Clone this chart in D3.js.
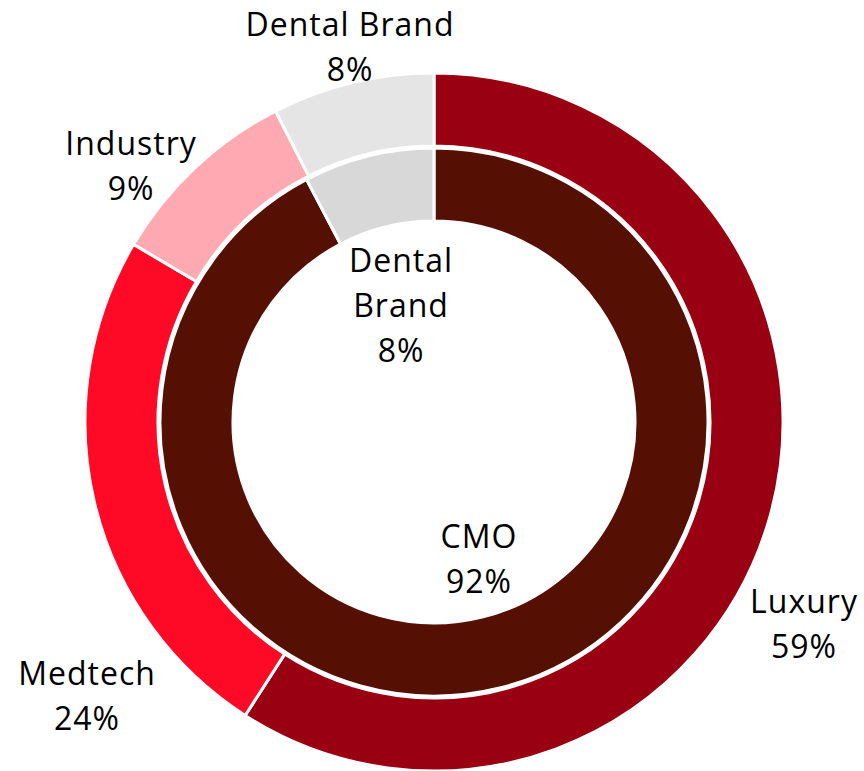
<!DOCTYPE html>
<html><head><meta charset="utf-8">
<script src="https://cdn.jsdelivr.net/npm/d3@7"></script>
<style>html,body{margin:0;padding:0;background:#fff;}svg{display:block;}</style>
</head><body>
<svg id="chart" width="864" height="771"></svg>
<script>
// Outer ring
const outerCategories = ["Luxury", "Medtech", "Industry", "Dental Brand"];
const outerValues = [59.1, 24.4, 9.0, 7.5];
const outerLabels = ["59%", "24%", "9%", "8%"];
const outerColors = ["#990011", "#FF0A26", "#FFAAB2", "#E5E5E5"];
// Inner ring
const innerCategories = ["CMO", "Dental Brand"];
const innerValues = [92.3, 7.7];
const innerLabels = ["92%", "8%"];
const innerColors = ["#560F03", "#D8D8D8"];

// label placement: offset of first baseline from centre
const outerLabelPos = [[370, 191], [-347, 263], [-303, -267], [-84, -386]];
const innerLabelPos = [[45, 126], [-33, -150]];
const outerLabelLines = [["Luxury"], ["Medtech"], ["Industry"], ["Dental Brand"]];
const innerLabelLines = [["CMO"], ["Dental", "Brand"]];

const svg = d3.select("#chart");
const cx = 434, cy = 422;
const g = svg.append("g").attr("transform", `translate(${cx},${cy})`);

const pie = d3.pie().sort(null).value(d => d);

const outerArc = d3.arc().innerRadius(276).outerRadius(349);
const innerArc = d3.arc().innerRadius(201).outerRadius(274);

g.selectAll("path.outer").data(pie(outerValues)).join("path")
  .attr("class", "outer")
  .attr("d", outerArc)
  .attr("fill", (d, i) => outerColors[i])
  .attr("stroke", "#fff").attr("stroke-width", 3).attr("stroke-linejoin", "miter");

g.selectAll("path.inner").data(pie(innerValues)).join("path")
  .attr("class", "inner")
  .attr("d", innerArc)
  .attr("fill", (d, i) => innerColors[i])
  .attr("stroke", "#fff").attr("stroke-width", 3).attr("stroke-linejoin", "miter");

const fontFamily = "'Open Sans', 'Noto Sans', sans-serif";
const fs = 32, lh = 45;

function drawLabel(lines, pos) {
  const t = g.append("text")
    .attr("text-anchor", "middle")
    .attr("font-family", fontFamily)
    .attr("font-size", fs)
    .attr("letter-spacing", 1)
    .attr("fill", "#000");
  lines.forEach((s, k) => {
    t.append("tspan").attr("x", pos[0])
      .attr("y", pos[1] + k * lh)
      .text(s);
  });
}

outerCategories.forEach((c, i) => drawLabel(outerLabelLines[i].concat([outerLabels[i]]), outerLabelPos[i]));
innerCategories.forEach((c, i) => drawLabel(innerLabelLines[i].concat([innerLabels[i]]), innerLabelPos[i]));
</script>
</body></html>
